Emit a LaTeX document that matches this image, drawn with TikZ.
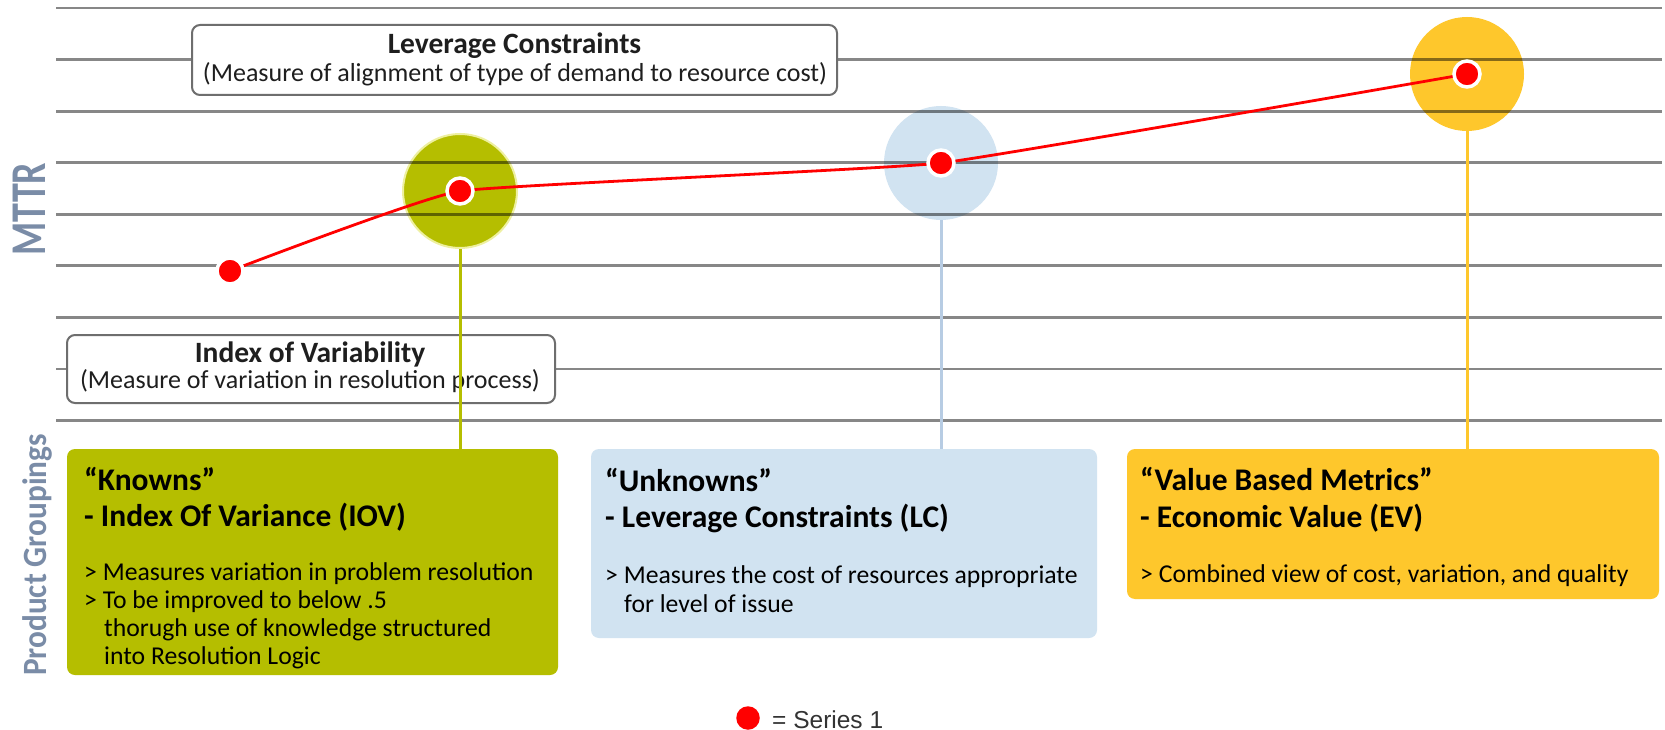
\documentclass[tikz,border=0pt]{standalone}
\usepackage{fontspec}
\setmainfont{Carlito}
\newfontfamily\legfont{Liberation Sans}
\newcommand\fsz[1]{\fontsize{#1}{#1}\selectfont}
\definecolor{olive}{HTML}{B5BE00}
\definecolor{halorim}{HTML}{EEF0A0}
\definecolor{lblue}{HTML}{D1E3F1}
\definecolor{stemblue}{HTML}{B7CCE3}
\definecolor{gold}{HTML}{FEC72C}
\definecolor{slate}{HTML}{7A8CA7}
\definecolor{bordc}{HTML}{6E6E6E}
\definecolor{dotred}{HTML}{FF0000}
\definecolor{ink}{HTML}{1E1E1E}
\tikzset{
  halo/.style={circle, minimum size=114pt, inner sep=0pt},
  gridline/.style={draw=black, draw opacity=0.47, line width=2.8pt},
  labelbox/.style={draw=bordc, line width=2pt, fill=white, rounded corners=8pt, inner sep=0pt},
  groupbox/.style={rounded corners=8pt, inner sep=0pt},
  stem/.style={line width=3pt},
  series/.style={draw=dotred, line width=2.8pt},
  dot/.style={circle, fill=dotred, draw=white, line width=3.5pt, minimum size=26pt, inner sep=0pt},
  ttl/.style={font=\fsz{29.5}\bfseries, anchor=base, inner sep=0pt, text=ink},
  sub/.style={font=\fsz{26}, anchor=base, inner sep=0pt, text=ink},
  hdr/.style={font=\fsz{31.5}\bfseries, anchor=base west, inner sep=0pt, text=black},
  body/.style={font=\fsz{25.7}, anchor=base west, inner sep=0pt, text=black},
  axislab/.style={rotate=90, anchor=base, inner sep=0pt, text=slate}
}
\begin{document}
\begin{tikzpicture}[x=1pt,y=-1pt]
\useasboundingbox[fill=white] (0,0) rectangle (1665,730);

\coordinate (p0) at (230,271);
\coordinate (p1) at (460,191);
\coordinate (p2) at (941,163);
\coordinate (p3) at (1467,74);

% halos
\node[halo, fill=olive, draw=halorim, line width=2pt] (h1) at (p1) {};
\node[halo, fill=lblue] (h2) at (p2) {};
\node[halo, fill=gold] (h3) at (p3) {};

% grid
\foreach \k in {0,...,8} {
  \draw[gridline] (56,{8+51.56*\k}) -- (1662,{8+51.56*\k});
}

% label boxes
\node[labelbox, minimum width=645pt, minimum height=70pt] (lev) at (514.5,60) {};
\node[ttl] (levt) at (514.5,54) {Leverage Constraints};
\node[sub] (levs) at (515,82) {(Measure of alignment of type of demand to resource cost)};

\node[labelbox, minimum width=488pt, minimum height=68pt] (iov) at (311,369) {};
\node[ttl] (iovt) at (310,362) {Index of Variability};
\node[sub] (iovs) at (310,388) {(Measure of variation in resolution process)};

% group boxes
\node[groupbox, fill=olive, minimum width=491pt, minimum height=226pt] (kbox) at (312.5,562) {};
\node[groupbox, fill=lblue, minimum width=506pt, minimum height=189pt] (ubox) at (844,543.5) {};
\node[groupbox, fill=gold, minimum width=532pt, minimum height=150pt] (vbox) at (1393,524) {};

% stems
\draw[stem, olive] (h1.south) -- (h1.south |- kbox.north);
\draw[stem, stemblue] (h2.south) -- (h2.south |- ubox.north);
\draw[stem, gold] (h3.south) -- (h3.south |- vbox.north);

% series
\draw[series] plot[smooth, tension=0.18] coordinates {(p0) (p1) (p2) (p3)};
\node[dot] (d0) at (p0) {};
\node[dot] (d1) at (p1) {};
\node[dot] (d2) at (p2) {};
\node[dot] (d3) at (p3) {};

% knowns text
\node[hdr] (k1) at (84,490) {“Knowns”};
\node[hdr] (k2) at (84,526) {- Index Of Variance (IOV)};
\node[body] (k3) at (84,580) {> Measures variation in problem resolution};
\node[body] (k4) at (84,608) {> To be improved to below .5};
\node[body] (k5) at (104,636) {thorugh use of knowledge structured};
\node[body] (k6) at (104,664) {into Resolution Logic};

% unknowns text
\node[hdr] (u1) at (605,491) {“Unknowns”};
\node[hdr] (u2) at (605,527) {- Leverage Constraints (LC)};
\node[body] (u3) at (605,583) {> Measures the cost of resources appropriate};
\node[body] (u4) at (624,612) {for level of issue};

% value text
\node[hdr] (v1) at (1140,490) {“Value Based Metrics”};
\node[hdr] (v2) at (1140,527) {- Economic Value (EV)};
\node[body] (v3) at (1140,582) {> Combined view of cost, variation, and quality};

% axis labels
\node[axislab, font=\fsz{50}\bfseries] (mttr) at (45,209) {\scalebox{0.76}[1]{MTTR}};
\node[axislab, font=\fsz{34}\bfseries] (pg) at (46,555) {\scalebox{0.92}[1]{Product Groupings}};

% legend
\node[dot, draw=none, minimum size=23.5pt] (ld) at (748,718) {};
\node[font=\legfont\fsz{24.5}, text=black!80, anchor=base west, inner sep=0pt] (lt) at (772,728) {= Series 1};
\end{tikzpicture}
\end{document}
